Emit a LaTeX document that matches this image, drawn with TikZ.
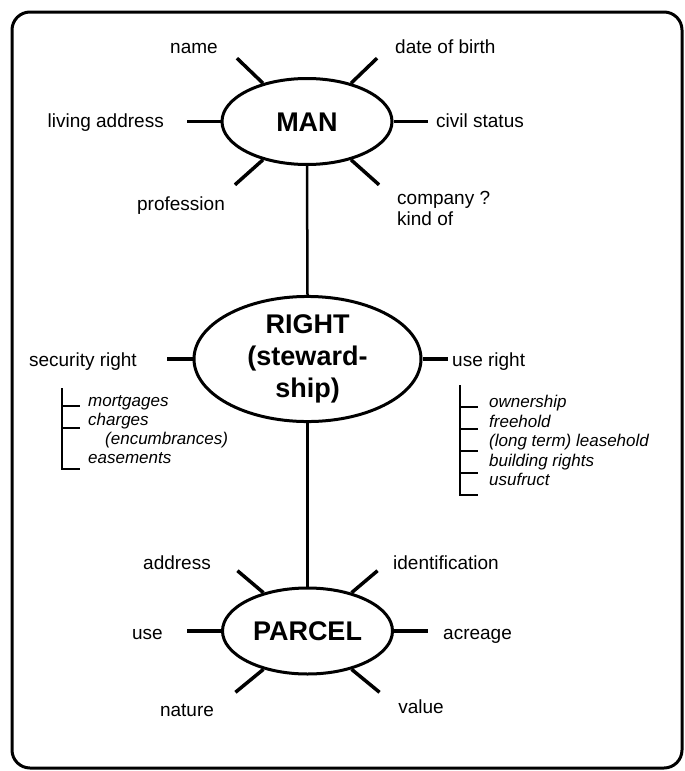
\documentclass[tikz,border=0pt]{standalone}
\usepackage{fontspec}
\setmainfont{Liberation Sans}
\usetikzlibrary{shapes.geometric}
\begin{document}
\begin{tikzpicture}[x=1pt,y=-1pt,
  lbl/.style={font=\fontsize{19}{21}\selectfont, inner sep=0pt, text height=14pt, text depth=4pt},
  itl/.style={font=\fontsize{17}{19}\selectfont\itshape, inner sep=0pt, text height=12.5pt, text depth=3.5pt, anchor=west},
  ent/.style={ellipse, draw, line width=3pt, inner sep=0pt, font=\fontsize{27}{32}\selectfont\bfseries},
  spoke/.style={line width=3.5pt},
  link/.style={line width=2.5pt},
  brk/.style={line width=2pt}]
\useasboundingbox (0,0) rectangle (685,771);
\draw[line width=3pt, rounded corners=18pt] (12,12) rectangle (682,768);

% entities
\node[ent, minimum width=170pt, minimum height=86pt, text height=19pt, text depth=0pt] (man) at (307,121.5) {MAN};
\node[ent, minimum width=227pt, minimum height=104pt, align=center] (right) at (307.5,359) {RIGHT\\(steward-\\ship)};
\node[ent, minimum width=170pt, minimum height=86pt, text height=19pt, text depth=0pt] (parcel) at (307.5,631) {PARCEL};

% main connectors
\draw[link] (man.south) -- (right.north);
\draw[link] (right.south) -- (parcel.north);

% MAN spokes and labels
\draw[spoke] (man.139) -- ++(-26,-25) coordinate (m1);
\draw[spoke] (man.41) -- ++(26,-25) coordinate (m2);
\draw[spoke] (man.west) -- ++(-34,0) coordinate (m3);
\draw[spoke] (man.east) -- ++(34,0) coordinate (m4);
\draw[spoke] (man.221) -- ++(-28,25) coordinate (m5);
\draw[spoke] (man.319) -- ++(28,25) coordinate (m6);
\node[lbl] (name) at (194,48) {name};
\node[lbl, anchor=west] (dob) at (395,48) {date of birth};
\node[lbl, anchor=east] (living) at (164,122) {living address};
\node[lbl, anchor=west] (civil) at (436,122) {civil status};
\node[lbl] (prof) at (181,205) {profession};
\node[lbl, anchor=west] (comp) at (397,199) {company ?};
\node[lbl, anchor=west] (kind) at (397,220) {kind of};

% RIGHT spokes and labels
\draw[spoke] (right.west) -- ++(-26,0) coordinate (r1);
\draw[spoke] (right.east) -- ++(25,0) coordinate (r2);
\node[lbl, anchor=east] (sec) at (137,361) {security right};
\node[lbl, anchor=west] (use) at (452,361) {use right};

% security right list
\coordinate (sa) at (62,388);
\coordinate (sb) at (62,469);
\draw[brk] (sa) -- (sb) -- ++(18,0);
\draw[brk] (62,406) -- ++(18,0);
\draw[brk] (62,428) -- ++(18,0);
\node[itl] (mort) at (88,402) {mortgages};
\node[itl] (charg) at (88,421) {charges};
\node[itl] (encum) at (105,440) {(encumbrances)};
\node[itl] (ease) at (88,459) {easements};

% use right list
\coordinate (ua) at (460,385);
\coordinate (ub) at (460,495);
\draw[brk] (ua) -- (ub) -- ++(18,0);
\foreach \yy in {407,429,451,473} \draw[brk] (460,\yy) -- ++(18,0);
\node[itl] (own) at (489,403) {ownership};
\node[itl] (free) at (489,423) {freehold};
\node[itl] (lease) at (489,442) {(long term) leasehold};
\node[itl] (build) at (489,462) {building rights};
\node[itl] (usu) at (489,481) {usufruct};

% PARCEL spokes and labels
\draw[spoke] (parcel.139) -- ++(-26,-22) coordinate (p1);
\draw[spoke] (parcel.41) -- ++(26,-22) coordinate (p2);
\draw[spoke] (parcel.west) -- ++(-34,0) coordinate (p3);
\draw[spoke] (parcel.east) -- ++(34,0) coordinate (p4);
\draw[spoke] (parcel.221) -- ++(-28,23) coordinate (p5);
\draw[spoke] (parcel.319) -- ++(28,23) coordinate (p6);
\node[lbl, anchor=east] (addr) at (211,564) {address};
\node[lbl, anchor=west] (ident) at (393,564) {identification};
\node[lbl, anchor=east] (puse) at (163,634) {use};
\node[lbl, anchor=west] (acre) at (443,634) {acreage};
\node[lbl] (nat) at (187,711) {nature};
\node[lbl] (val) at (421,708) {value};
\end{tikzpicture}
\end{document}
